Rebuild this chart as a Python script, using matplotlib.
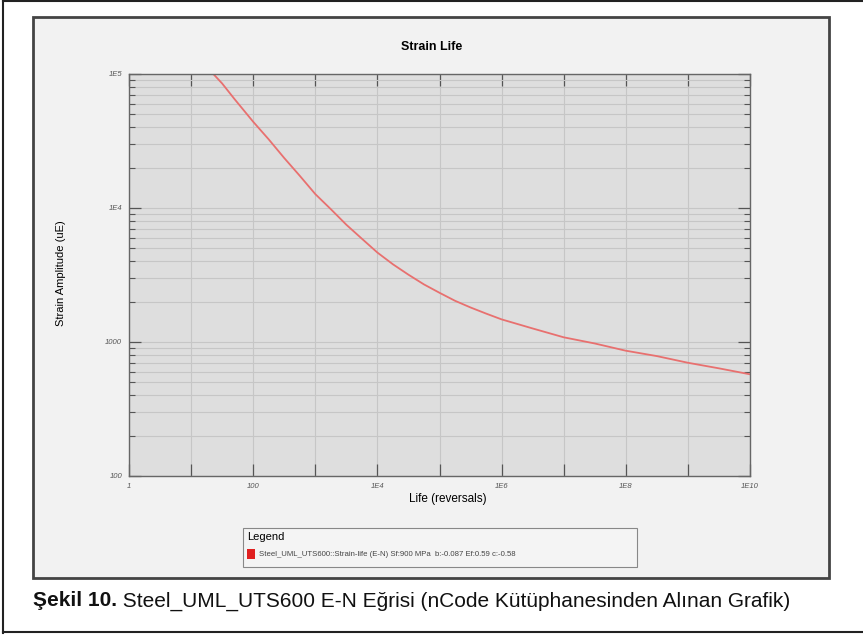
import matplotlib
matplotlib.use("Agg")
import matplotlib.pyplot as plt
from matplotlib.patches import Rectangle
from matplotlib.lines import Line2D
from matplotlib.ticker import FixedLocator, FixedFormatter, LogLocator, NullFormatter

plt.rcParams['font.family'] = ['Liberation Sans', 'DejaVu Sans']

# curve (reversals, micro strain)
life = [22.8, 31.6, 50, 100, 178, 316, 562, 1000, 1778, 3162, 5623, 1e4, 1.78e4,
        3.16e4, 5.62e4, 1e5, 1.78e5, 3.16e5, 5.62e5, 1e6, 3.16e6, 1e7, 3.16e7,
        1e8, 3.16e8, 1e9, 3.16e9, 1e10]
strain = [1e5, 85000, 65000, 44000, 32500, 23600, 17400, 12700, 9800, 7500, 5900,
          4650, 3800, 3180, 2690, 2330, 2030, 1810, 1630, 1475, 1262, 1084, 975,
          861, 785, 700, 636, 574]

x_ticks = [1, 10, 100, 1e3, 1e4, 1e5, 1e6, 1e7, 1e8, 1e9, 1e10]
x_labels = ['1', '', '100', '', '1E4', '', '1E6', '', '1E8', '', '1E10']
y_ticks = [100, 1000, 1e4, 1e5]
y_labels = ['100', '1000', '1E4', '1E5']

title = "Strain Life"
xlabel = "Life (reversals)"
ylabel = "Strain Amplitude (uE)"
legend_label = "Steel_UML_UTS600::Strain-life (E-N) Sf:900 MPa  b:-0.087 Ef:0.59 c:-0.58"
caption_bold = "Şekil 10."
caption_rest = " Steel_UML_UTS600 E-N Eğrisi (nCode Kütüphanesinden Alınan Grafik)"

W, H = 863, 636
fig = plt.figure(figsize=(W/100, H/100), dpi=100)

def fx(px): return px / W
def fy(py): return 1 - py / H

# outer frame
for seg in [((3, 3), (0, 633)), ((3, 863), (1, 1)), ((3, 863), (632, 632))]:
    fig.add_artist(Line2D([fx(v) for v in seg[0]], [fy(v) for v in seg[1]],
                          color='#222222', lw=1.5))

# chart panel
fig.add_artist(Rectangle((fx(33), fy(578)), fx(829) - fx(33), fy(17) - fy(578),
                         facecolor='#f2f2f2', edgecolor='#444444', lw=2, zorder=-1))

ax = fig.add_axes([fx(129), fy(476), fx(750) - fx(129), fy(74) - fy(476)])
ax.set_zorder(2)
ax.set_facecolor('#dedede')
ax.plot(life, strain, color='#e8706f', lw=1.3)
ax.set_xscale('log')
ax.set_yscale('log')
ax.set_xlim(1, 1e10)
ax.set_ylim(100, 1e5)

ax.xaxis.set_major_locator(FixedLocator(x_ticks))
ax.xaxis.set_major_formatter(FixedFormatter(x_labels))
ax.xaxis.set_minor_locator(FixedLocator([]))
ax.yaxis.set_major_locator(FixedLocator(y_ticks))
ax.yaxis.set_major_formatter(FixedFormatter(y_labels))
ax.yaxis.set_minor_locator(LogLocator(base=10, subs=range(2, 10)))
ax.yaxis.set_minor_formatter(NullFormatter())

ax.tick_params(which='major', direction='in', length=8.5, width=0.9, color='#555555',
               top=True, right=True, labelsize=5.5, labelcolor='#555555', pad=5)
ax.tick_params(which='minor', direction='in', length=4, width=0.8, color='#555555',
               left=True, right=True)
for lab in ax.get_xticklabels() + ax.get_yticklabels():
    lab.set_fontstyle('italic')

ax.grid(True, which='major', axis='x', color='#c6c6c6', lw=0.8)
ax.grid(True, which='both', axis='y', color='#c6c6c6', lw=0.8)
ax.set_axisbelow(True)
for s in ax.spines.values():
    s.set_color('#666666')
    s.set_linewidth(1)

fig.text(fx(432), fy(47), title, ha='center', va='center', fontsize=9, fontweight='bold')
fig.text(fx(448), fy(499), xlabel, ha='center', va='center', fontsize=8.5)
fig.text(fx(61), fy(273), ylabel, ha='center', va='center', fontsize=8, rotation=90)

# legend box
fig.add_artist(Rectangle((fx(243), fy(567)), fx(637) - fx(243), fy(528) - fy(567),
                         facecolor='#f4f4f4', edgecolor='#888888', lw=0.8))
fig.text(fx(247), fy(537), "Legend", ha='left', va='center', fontsize=8)
fig.add_artist(Rectangle((fx(247), fy(559)), fx(255) - fx(247), fy(549) - fy(559),
                         facecolor='#e02020', edgecolor='none'))
fig.text(fx(259), fy(554), legend_label, ha='left', va='center', fontsize=5.6, color='#444444')

# caption
t = fig.text(fx(33), fy(601), caption_bold, ha='left', va='center', fontsize=15,
             fontweight='bold', color='#111111')
r = fig.canvas.get_renderer()
bb = t.get_window_extent(renderer=r)
fig.text(bb.x1 / W, fy(601), caption_rest, ha='left', va='center', fontsize=15,
         color='#111111')

fig.savefig("out.png", dpi=100)
